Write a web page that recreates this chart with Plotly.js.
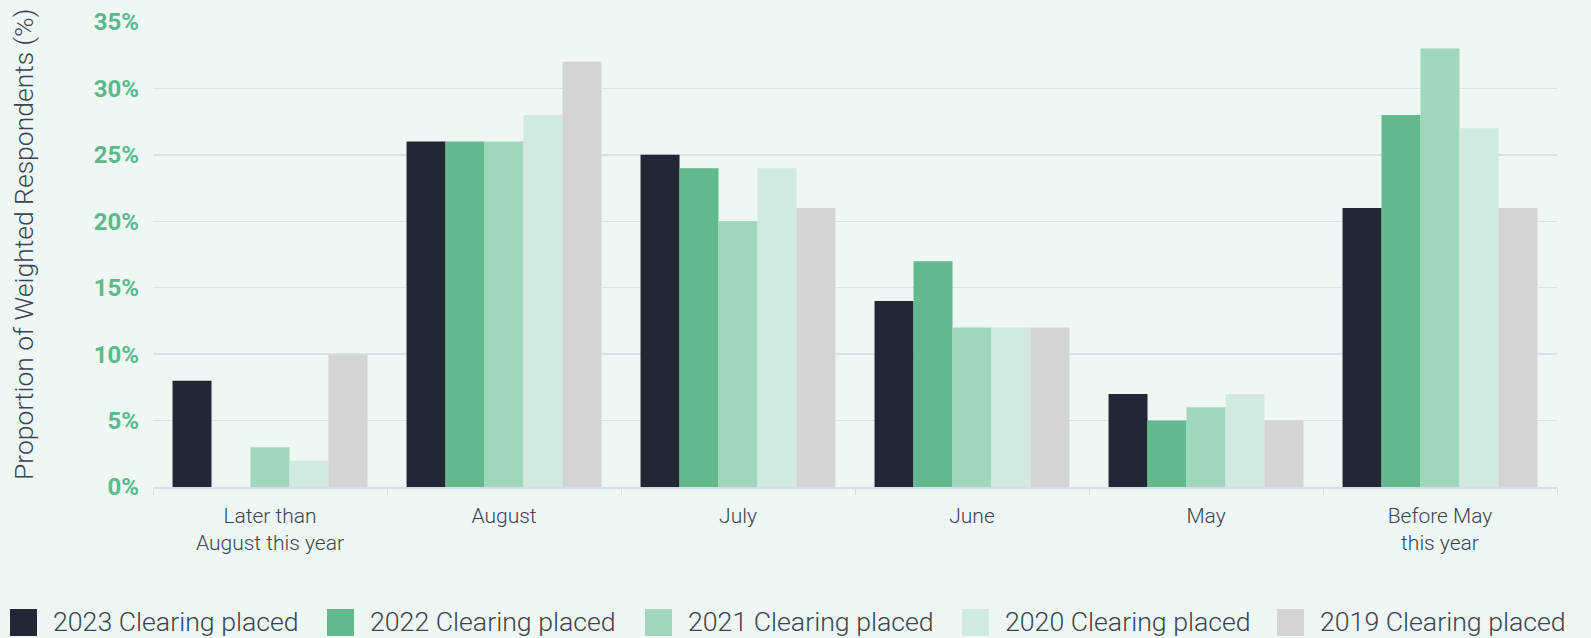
<!DOCTYPE html>
<html>
<head>
<meta charset="utf-8">
<script src="https://cdn.plot.ly/plotly-3.0.1.min.js"></script>
<style>
html,body{margin:0;padding:0;background:#eef7f3;}
#chart{width:1591px;height:638px;}
</style>
</head>
<body>
<div id="chart"></div>
<script>
const categories = ["Later than<br>August this year", "August", "July", "June", "May", "Before May<br>this year"];
const seriesNames = ["2023 Clearing placed", "2022 Clearing placed", "2021 Clearing placed", "2020 Clearing placed", "2019 Clearing placed"];
const s2023 = [8, 26, 25, 14, 7, 21];
const s2022 = [0, 26, 24, 17, 5, 28];
const s2021 = [3, 26, 20, 12, 6, 33];
const s2020 = [2, 28, 24, 12, 7, 27];
const s2019 = [10, 32, 21, 12, 5, 21];
const yTickVals = [0, 5, 10, 15, 20, 25, 30, 35];
const yTickText = ["0%", "5%", "10%", "15%", "20%", "25%", "30%", "35%"];
const yTitle = "Proportion of Weighted Respondents (%)";
const colors = ["#212735", "#62b98e", "#a0d6bb", "#d0eadf", "#d3d4d6"];

const allSeries = [s2023, s2022, s2021, s2020, s2019];
const traces = allSeries.map((vals, i) => ({
  type: "bar",
  name: seriesNames[i],
  x: categories,
  y: vals,
  marker: {color: colors[i], line: {width: 0}},
  showlegend: false,
  hoverinfo: "x+y+name"
}));

// custom legend (large square swatches) built from names/colours
const W = 1591, H = 638;
const PL = 153, PR = 1557, PT = 22, PB = 487;
const px = v => (v - PL) / (PR - PL);
const py = v => (PB - v) / (PB - PT);
const legendX0 = [10, 327, 645, 962, 1277];
const shapes = [];
const annotations = [];
seriesNames.forEach((n, i) => {
  shapes.push({
    type: "rect", xref: "paper", yref: "paper", layer: "above",
    x0: px(legendX0[i]), x1: px(legendX0[i] + 27),
    y0: py(636), y1: py(609),
    fillcolor: colors[i], line: {width: 0}
  });
  annotations.push({
    xref: "paper", yref: "paper",
    x: px(legendX0[i] + 41), y: py(622),
    xanchor: "left", yanchor: "middle",
    text: n, showarrow: false,
    font: {family: "Roboto", size: 26.7, color: "#3c4451", weight: 300}
  });
});
annotations.push({
  xref: "paper", yref: "paper",
  x: px(23), y: py(245),
  xanchor: "center", yanchor: "middle",
  textangle: -90,
  text: yTitle, showarrow: false,
  font: {family: "Roboto", size: 26.5, color: "#3c4451", weight: 300}
});

const layout = {
  width: W, height: H,
  paper_bgcolor: "#eef7f3",
  plot_bgcolor: "#eef7f3",
  margin: {l: 153, r: 34, t: 22, b: 151},
  barmode: "group",
  bargap: 0.167,
  bargroupgap: 0,
  showlegend: false,
  font: {family: "Roboto", color: "#3c4451"},
  xaxis: {
    type: "category",
    tickson: "boundaries",
    ticks: "outside",
    ticklen: 6,
    tickcolor: "#d6dde4",
    showline: true,
    linecolor: "#d6dde4",
    linewidth: 1.5,
    showgrid: false,
    ticklabelstandoff: 9,
    tickfont: {family: "Roboto", size: 21, color: "#3c4451", weight: 300},
    automargin: false
  },
  yaxis: {
    range: [0, 35],
    tickvals: yTickVals,
    ticktext: yTickText,
    showgrid: true,
    gridcolor: "#d9e1e6",
    gridwidth: 1.5,
    zeroline: false,
    showline: false,
    ticks: "",
    ticklabelstandoff: 13,
    tickfont: {family: "Roboto", size: 24, color: "#5cb98a", weight: 700},
    automargin: false
  },
  shapes: shapes,
  annotations: annotations
};

Plotly.newPlot("chart", traces, layout, {displayModeBar: false, staticPlot: true});
</script>
</body>
</html>
